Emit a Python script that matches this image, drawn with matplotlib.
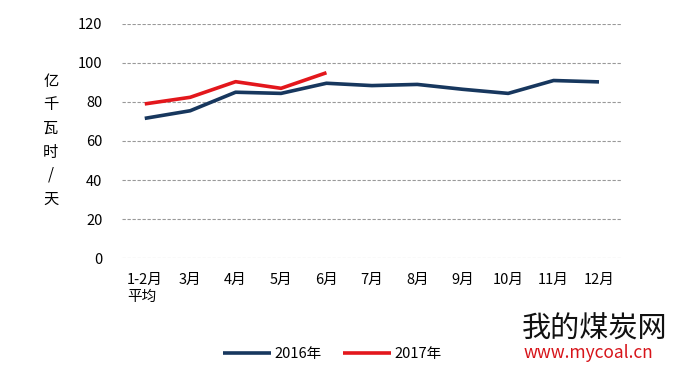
import numpy as np
import matplotlib.pyplot as plt

plt.rcParams['font.family'] = ['Noto Sans CJK SC', 'DejaVu Sans']

# 数据
months = ['1-2月\n平均', '3月', '4月', '5月', '6月', '7月', '8月', '9月', '10月', '11月', '12月']
y2016 = [71.6, 75.5, 85.0, 84.4, 89.6, 88.4, 89.0, 86.5, 84.4, 91.0, 90.3]
y2017 = [79.0, 82.4, 90.4, 87.0, 95.0]
yticks = [0, 20, 40, 60, 80, 100, 120]

fig = plt.figure(figsize=(6.78, 3.74), dpi=100)
ax = fig.add_axes([0.18, 0.31, 0.737, 0.626])

x = np.arange(len(months))
ax.plot(x, y2016, color='#17375E', lw=2.6, label='2016年', solid_capstyle='butt')
ax.plot(x[:len(y2017)], y2017, color='#E3171C', lw=2.6, label='2017年', solid_capstyle='butt')

ax.set_xlim(-0.5, len(months) - 0.5)
ax.set_ylim(0, 120)
ax.set_yticks(yticks)
ax.set_xticks(x)
ax.set_xticklabels(months, fontsize=10.5)
for lab in ax.get_xticklabels():
    lab.set_multialignment('left')
ax.tick_params(axis='y', labelsize=10.5, length=0, pad=14)
ax.tick_params(axis='x', length=0, pad=11)
ax.yaxis.grid(True, ls=(0, (3, 1.5)), color='#999999', lw=0.8)
ax.set_axisbelow(True)
for s in ax.spines.values():
    s.set_visible(False)

# 纵向单位
fig.text(0.075, 0.625, '亿\n千\n瓦\n时\n/\n天', fontsize=11, ha='center', va='center',
         linespacing=1.5)

fig.legend(loc='center', bbox_to_anchor=(0.49, 0.053), ncol=2, frameon=False,
           fontsize=10.5, handlelength=3.3, handletextpad=0.2, columnspacing=1.5)

# 水印
fig.text(0.77, 0.118, '我的煤炭网', fontsize=21, ha='left', va='center', color='#111111')
fig.text(0.772, 0.055, 'www.mycoal.cn', fontsize=12.5, ha='left', va='center', color='#D7141A')

fig.savefig('out.png', dpi=100)
